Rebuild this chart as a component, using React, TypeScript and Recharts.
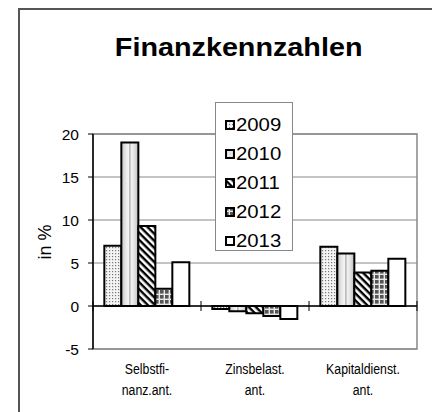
import React from "react";
import { BarChart, Bar, XAxis, YAxis, CartesianGrid, ReferenceLine, ReferenceArea } from "recharts";

const categories = ["Selbstfi-\nnanz.ant.", "Zinsbelast.\nant.", "Kapitaldienst.\nant."];
const years = ["2009", "2010", "2011", "2012", "2013"];
const v2009 = [7.0, -0.35, 6.9];
const v2010 = [19.0, -0.6, 6.1];
const v2011 = [9.3, -0.85, 3.9];
const v2012 = [2.0, -1.15, 4.1];
const v2013 = [5.1, -1.5, 5.5];
const yTicks = [-5, 0, 5, 10, 15, 20];

const seriesValues = [v2009, v2010, v2011, v2012, v2013];
const data = categories.map((c, i) => {
  const row: any = { name: c };
  years.forEach((y, k) => {
    row[y] = seriesValues[k][i];
  });
  return row;
});

const fills = ["url(#p2009)", "url(#p2010)", "url(#p2011)", "url(#p2012)", "#ffffff"];
const FONT = "'Liberation Sans', Arial, sans-serif";
const NARROW = "'Liberation Sans Narrow', 'Arial Narrow', 'Liberation Sans', sans-serif";

const Defs = () => (
  <defs>
    <pattern id="p2009" width="3" height="3" patternUnits="userSpaceOnUse">
      <rect width="3" height="3" fill="#f4f4f4" />
      <rect x="1" y="1" width="1.2" height="1.2" fill="#777" />
    </pattern>
    <linearGradient id="p2010" x1="0" y1="0" x2="1" y2="0">
      <stop offset="0" stopColor="#c4c4c4" />
      <stop offset="0.25" stopColor="#e6e6e6" />
      <stop offset="0.42" stopColor="#f6f6f6" />
      <stop offset="0.5" stopColor="#a8a8a8" />
      <stop offset="0.58" stopColor="#f2f2f2" />
      <stop offset="0.8" stopColor="#dcdcdc" />
      <stop offset="1" stopColor="#bdbdbd" />
    </linearGradient>
    <pattern id="p2011" width="5" height="5" patternUnits="userSpaceOnUse" patternTransform="rotate(45)">
      <rect width="5" height="5" fill="#ffffff" />
      <rect width="5" height="2.4" fill="#000000" />
    </pattern>
    <pattern id="p2012" width="5" height="5" patternUnits="userSpaceOnUse">
      <rect width="5" height="5" fill="#e8e8e8" />
      <rect width="3.6" height="3.6" fill="#555555" />
    </pattern>
  </defs>
);

const XTick = (props: any) => {
  const { x, y, payload } = props;
  const lines = String(payload.value).split("\n");
  return (
    <g transform={`translate(${x},${y})`}>
      {lines.map((l, i) => (
        <text
          key={i}
          x={0}
          y={7 + i * 21}
          textAnchor="middle"
          fontFamily={NARROW}
          fontSize={15}
          fill="#000"
          dominantBaseline="hanging"
          transform="scale(0.82,1)"
        >
          {l}
        </text>
      ))}
    </g>
  );
};

const ZeroLine = (props: any) => {
  const { x1, x2, y1 } = props;
  const n = categories.length;
  const step = (x2 - x1) / n;
  const ticks = [];
  for (let i = 0; i <= n; i++) ticks.push(x1 + step * i);
  return (
    <g>
      <line x1={x1} x2={x2} y1={y1} y2={y1} stroke="#000" strokeWidth={1.3} />
      {ticks.map((t, i) => (
        <line key={i} x1={t} x2={t} y1={y1 - 5} y2={y1 + 5} stroke="#000" strokeWidth={1} />
      ))}
    </g>
  );
};

const LegendBox = () => (
  <div
    style={{
      position: "absolute",
      left: 215,
      top: 102,
      background: "#fff",
      border: "1px solid #888",
      width: 78,
      height: 149,
      boxSizing: "border-box",
      paddingTop: 7,
    }}
  >
    <svg width={0} height={0} style={{ position: "absolute" }}>
      <Defs />
    </svg>
    {years.map((y, i) => (
      <div key={y} style={{ display: "flex", alignItems: "center", height: 29, paddingLeft: 9 }}>
        <svg width={10} height={10} style={{ marginRight: 1 }}>
          <rect x={1} y={1} width={8} height={8} fill={fills[i]} stroke="#000" strokeWidth={2} />
        </svg>
        <span
          style={{
            display: "inline-block",
            fontFamily: FONT,
            fontSize: 18,
            color: "#000",
            lineHeight: "20px",
            transform: "scaleX(1.13)",
            transformOrigin: "left center",
          }}
        >
          {y}
        </span>
      </div>
    ))}
  </div>
);

export default function App() {
  return (
    <div style={{ position: "absolute", left: 0, top: 0, width: 432, height: 412, background: "#fff", overflow: "hidden" }}>
      <div
        style={{
          position: "absolute",
          left: 18,
          top: 8,
          width: 500,
          height: 500,
          borderLeft: "2px solid #555",
          borderTop: "2px solid #555",
        }}
      />
      <div
        style={{
          position: "absolute",
          left: 0,
          width: 478,
          top: 33,
          textAlign: "center",
        }}
      >
        <span
          style={{
            display: "inline-block",
            fontFamily: FONT,
            fontWeight: "bold",
            fontSize: 25,
            lineHeight: "28px",
            transform: "scaleX(1.15)",
          }}
        >
          Finanzkennzahlen
        </span>
      </div>
      <div
        style={{
          position: "absolute",
          left: 45,
          top: 242,
          transform: "translate(-50%,-50%) rotate(-90deg)",
          fontFamily: FONT,
          fontSize: 18,
          whiteSpace: "nowrap",
        }}
      >
        in %
      </div>
      <div style={{ position: "absolute", left: 0, top: 0 }}>
        <BarChart
          width={432}
          height={412}
          data={data}
          margin={{ top: 134, right: 15, bottom: 20, left: 63 }}
          barCategoryGap="10.5%"
          barGap={0}
        >
          <ReferenceArea y1={-5} y2={20} fill="none" stroke="#888" strokeWidth={1.5} ifOverflow="visible" />
          <CartesianGrid vertical={false} stroke="#888" strokeWidth={1} />
          <XAxis dataKey="name" axisLine={false} tickLine={false} tick={<XTick />} height={43} interval={0} />
          <YAxis
            domain={[-5, 20]}
            ticks={yTicks}
            width={30}
            axisLine={{ stroke: "#000", strokeWidth: 1.5 }}
            tickLine={{ stroke: "#000" }}
            tickSize={5}
            tick={{ fontFamily: FONT, fontSize: 15.5, fill: "#000" }}
            tickMargin={9}
            interval={0}
          />
          {years.map((y, i) => (
            <Bar key={y} dataKey={y} fill={fills[i]} stroke="#000" strokeWidth={2} isAnimationActive={false} />
          ))}
          <ReferenceLine y={0} shape={<ZeroLine />} />
        </BarChart>
      </div>
      <LegendBox />
    </div>
  );
}
